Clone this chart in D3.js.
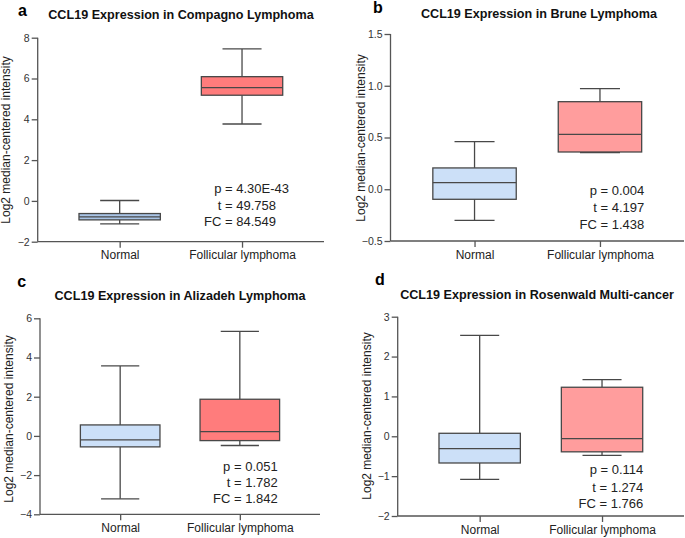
<!DOCTYPE html>
<html>
<head>
<meta charset="utf-8">
<script src="https://cdn.jsdelivr.net/npm/d3@7"></script>
<style>
  html, body { margin: 0; padding: 0; background: #fff; }
  svg { display: block; font-family: "Liberation Sans", Arial, sans-serif; }
</style>
</head>
<body>
<svg id="chart" width="685" height="538"></svg>
<script>
// ---------------- DATA ----------------
const categories = ["Normal", "Follicular lymphoma"];
const panelLetters = ["a", "b", "c", "d"];
const titles = [
  "CCL19 Expression in Compagno Lymphoma",
  "CCL19 Expression in Brune Lymphoma",
  "CCL19 Expression in Alizadeh Lymphoma",
  "CCL19 Expression in Rosenwald Multi-cancer"
];
const yAxisLabel = "Log2 median-centered intensity";

// y tick values per panel
const ticksA = [-2, 0, 2, 4, 6, 8];
const ticksB = [-0.5, 0.0, 0.5, 1.0, 1.5];
const ticksC = [-4, -2, 0, 2, 4, 6];
const ticksD = [-2, -1, 0, 1, 2, 3];

// box stats: [min, q1, median, q3, max]  (Normal, Follicular lymphoma)
const compagnoNormal     = [-1.13, -0.93, -0.78, -0.62, 0.02];
const compagnoFollicular = [3.77, 5.18, 5.55, 6.09, 7.45];
const bruneNormal        = [-0.30, -0.097, 0.064, 0.206, 0.46];
const bruneFollicular    = [0.355, 0.36, 0.531, 0.846, 0.972];
const alizadehNormal     = [-3.21, -0.56, -0.20, 0.56, 3.57];
const alizadehFollicular = [-0.49, -0.24, 0.22, 1.87, 5.33];
const rosenwaldNormal    = [-1.08, -0.67, -0.31, 0.075, 2.53];
const rosenwaldFollicular= [-0.48, -0.39, -0.058, 1.23, 1.42];

const statsA = ["p = 4.30E-43", "t = 49.758", "FC = 84.549"];
const statsB = ["p = 0.004", "t = 4.197", "FC = 1.438"];
const statsC = ["p = 0.051", "t = 1.782", "FC = 1.842"];
const statsD = ["p = 0.114", "t = 1.274", "FC = 1.766"];

// ---------------- LAYOUT / STYLE ----------------
const panels = [
  { letter: panelLetters[0], title: titles[0], ticks: ticksA, fmt: d3.format("d"),
    boxes: [compagnoNormal, compagnoFollicular], stats: statsA,
    colors: ["#a9c4e6", "#ff7c7c"],
    x0: 37.7, x1: 324, yTop: 37.7, yBot: 241.7,
    letterX: 18, letterY: 16, titleX: 181, titleY: 19,
    ylabX: 10, ylabY: 140,
    statsX: [289, 276, 276], statsY: [193, 209.5, 226] },
  { letter: panelLetters[1], title: titles[1], ticks: ticksB, fmt: d3.format(".1f"),
    boxes: [bruneNormal, bruneFollicular], stats: statsB,
    colors: ["#cce0f8", "#ff9d9d"],
    x0: 390.5, x1: 684, yTop: 34, yBot: 241,
    letterX: 373, letterY: 13.3, titleX: 539, titleY: 17.5,
    ylabX: 365, ylabY: 138,
    statsX: [644.3, 644.3, 644.3], statsY: [195, 212.3, 229.3] },
  { letter: panelLetters[2], title: titles[2], ticks: ticksC, fmt: d3.format("d"),
    boxes: [alizadehNormal, alizadehFollicular], stats: statsC,
    colors: ["#cce0f8", "#ff7c7c"],
    x0: 40, x1: 320, yTop: 318.3, yBot: 514.3,
    letterX: 17.3, letterY: 286.7, titleX: 180, titleY: 299.7,
    ylabX: 13, ylabY: 419,
    statsX: [277.7, 277.7, 277.7], statsY: [470.7, 486.7, 503.3] },
  { letter: panelLetters[3], title: titles[3], ticks: ticksD, fmt: d3.format("d"),
    boxes: [rosenwaldNormal, rosenwaldFollicular], stats: statsD,
    colors: ["#cce0f8", "#ff9d9d"],
    x0: 397.7, x1: 684, yTop: 316.7, yBot: 516,
    letterX: 375, letterY: 285, titleX: 537, titleY: 299,
    ylabX: 371, ylabY: 416,
    statsX: [643.3, 643.3, 643.3], statsY: [474.3, 491.7, 508.3] }
];

const strokeCol = "#484848";
const svg = d3.select("#chart");

panels.forEach(p => {
  const g = svg.append("g");
  const ext = d3.extent(p.ticks);
  const y = d3.scaleLinear().domain(ext).range([p.yBot, p.yTop]);
  const x = d3.scalePoint().domain(categories).range([p.x0, p.x1]).padding(0.67);
  const boxW = x.step() * 0.665;
  const capW = boxW * 0.48;

  // axes
  const yAxis = d3.axisLeft(y).tickValues(p.ticks).tickFormat(p.fmt).tickSize(6).tickPadding(2);
  const ya = g.append("g").attr("transform", `translate(${p.x0},0)`).call(yAxis);
  const xAxis = d3.axisBottom(x).tickSize(6).tickPadding(3);
  const xa = g.append("g").attr("transform", `translate(0,${p.yBot})`).call(xAxis);
  [ya, xa].forEach(a => {
    a.select(".domain").attr("stroke", "#555").attr("stroke-width", 1.3);
    a.selectAll(".tick line").attr("stroke", "#555").attr("stroke-width", 1.3);
  });
  xa.select(".domain").attr("d", `M${p.x0},0H${p.x1}`);
  ya.select(".domain").attr("d", `M0,${p.yBot}V${p.yTop}`);
  ya.selectAll(".tick text").attr("font-size", 10.5).attr("fill", "#333")
    .attr("font-family", "Liberation Sans, Arial, sans-serif");
  xa.selectAll(".tick text").attr("font-size", 12).attr("fill", "#222")
    .attr("font-family", "Liberation Sans, Arial, sans-serif");

  // boxes
  categories.forEach((c, i) => {
    const [mn, q1, md, q3, mx] = p.boxes[i];
    const cx = x(c);
    const bg = g.append("g").attr("stroke", strokeCol).attr("stroke-width", 1.3);
    // whiskers
    bg.append("line").attr("x1", cx).attr("x2", cx).attr("y1", y(mx)).attr("y2", y(q3));
    bg.append("line").attr("x1", cx).attr("x2", cx).attr("y1", y(q1)).attr("y2", y(mn));
    bg.append("line").attr("x1", cx - capW / 2).attr("x2", cx + capW / 2).attr("y1", y(mx)).attr("y2", y(mx));
    bg.append("line").attr("x1", cx - capW / 2).attr("x2", cx + capW / 2).attr("y1", y(mn)).attr("y2", y(mn));
    // box
    bg.append("rect").attr("x", cx - boxW / 2).attr("width", boxW)
      .attr("y", y(q3)).attr("height", y(q1) - y(q3)).attr("fill", p.colors[i]);
    bg.append("line").attr("x1", cx - boxW / 2).attr("x2", cx + boxW / 2).attr("y1", y(md)).attr("y2", y(md));
  });

  // stats
  p.stats.forEach((s, i) => {
    g.append("text").attr("x", p.statsX[i]).attr("y", p.statsY[i])
      .attr("text-anchor", "end").attr("font-size", 13).attr("fill", "#222").text(s);
  });

  // title, letter, y label
  g.append("text").attr("x", p.titleX).attr("y", p.titleY).attr("text-anchor", "middle")
    .attr("font-size", 12.6).attr("font-weight", "bold").attr("fill", "#111").text(p.title);
  g.append("text").attr("x", p.letterX).attr("y", p.letterY)
    .attr("font-size", 16).attr("font-weight", "bold").attr("fill", "#000").text(p.letter);
  g.append("text").attr("transform", `translate(${p.ylabX},${p.ylabY}) rotate(-90)`)
    .attr("text-anchor", "middle").attr("font-size", 12).attr("fill", "#222").text(yAxisLabel);
});
</script>
</body>
</html>
